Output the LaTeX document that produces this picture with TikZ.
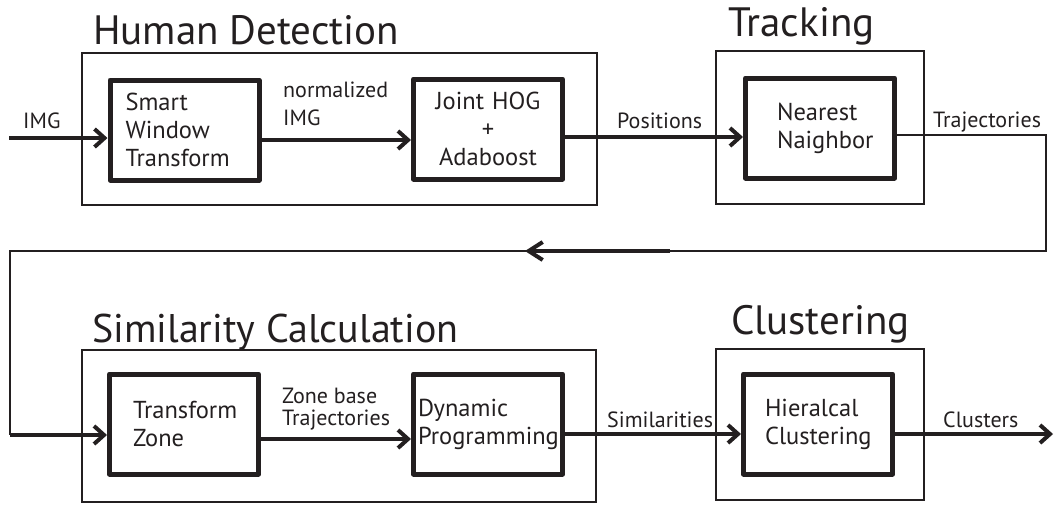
\documentclass[tikz,border=0pt]{standalone}
\usepackage{fontspec}
\setmainfont{PT Sans}
\usetikzlibrary{arrows.meta,calc}
\definecolor{ink}{HTML}{231F20}
\begin{document}
\begin{tikzpicture}[x=1pt,y=-1pt,
  every node/.style={text=ink},
  frame/.style={draw=ink, line width=2pt, inner sep=0pt},
  blk/.style={draw=ink, line width=5pt, line join=round, minimum width=149pt, minimum height=100pt, align=left, inner ysep=0pt, font=\fontsize{24.5}{28}\selectfont},
  ttl/.style={anchor=base west, inner sep=0pt, font=\fontsize{41}{44}\selectfont},
  lbl/.style={anchor=base west, inner sep=0pt, align=left, font=\fontsize{22}{28}\selectfont},
  arr/.style={draw=ink, line width=4pt, -{Straight Barb[length=10pt,width=18pt]}},
  wire/.style={draw=ink, line width=2pt}]
\useasboundingbox (0,0) rectangle (1056,504);
% stage frames
\node[frame, minimum width=515pt, minimum height=152pt] (hd) at (339.5,129) {};
\node[frame, minimum width=208pt, minimum height=153pt] (trk) at (820,127.5) {};
\node[frame, minimum width=514pt, minimum height=152pt] (sc) at (339,426) {};
\node[frame, minimum width=208pt, minimum height=151pt] (cl) at (820,424.5) {};
% titles
\node[ttl] (thd) at (93,44) {Human Detection};
\node[ttl] (ttrk) at (728,36) {Tracking};
\node[ttl, font=\fontsize{40}{44}\selectfont] (tsc) at (92,342) {Similarity Calculation};
\node[ttl] (tcl) at (731,334) {Clustering};
% blocks
\node[blk, inner xsep=15.5pt, text width=118pt] (swt) at (184.5,130) {Smart\\Window\\Transform};
\node[blk, inner xsep=5pt, text width=139pt, align=center] (jhog) at (488,129) {Joint HOG\\+\\Adaboost};
\node[blk, inner xsep=31.5pt, text width=86pt] (nn) at (820,128) {Nearest\\Naighbor};
\node[blk, inner xsep=23.5pt, text width=102pt] (tz) at (184,424) {Transform\\Zone};
\node[blk, inner xsep=4.5pt, text width=140pt] (dp) at (488,424) {Dynamic\\Programming};
\node[blk, inner xsep=21.5pt, text width=106pt] (hc) at (818,424) {Hieralcal\\Clustering};
% labels
\node[lbl] (limg) at (23,128) {IMG};
\node[lbl, anchor=north west] (lnorm) at (283,82) {normalized\\IMG};
\node[lbl] (lpos) at (617,128) {Positions};
\node[lbl] (ltraj) at (933,127) {Trajectories};
\node[lbl, anchor=north west, font=\fontsize{22}{22}\selectfont] (lzone) at (282,388) {Zone base\\Trajectories};
\node[lbl] (lsim) at (607,427) {Similarities};
\node[lbl] (lclu) at (943,427) {Clusters};
% connectors
\coordinate (src) at (9,138);
\coordinate (r2) at (1046,251);
\coordinate (l1) at (10,251);
\coordinate (l2) at (10,435);
\coordinate (m1) at (670,251);
\coordinate (m2) at (525,251);
\coordinate (out) at (1053,434);
\draw[arr] (src) -- (src -| swt.west);
\draw[arr] ([yshift=-10pt]swt.east) -- ([yshift=-10pt]swt.east -| jhog.west);
\draw[arr] ([yshift=-8pt]jhog.east) -- ([yshift=-8pt]jhog.east -| nn.west);
\draw[wire] ([yshift=-7pt]nn.east) -| (r2) -- (l1) -- (l2);
\draw[arr, -{Straight Barb[length=14pt,width=18pt]}] (m1) -- (m2);
\draw[arr] (l2) -- (l2 -| tz.west);
\draw[arr] ([yshift=-15pt]tz.east) -- ([yshift=-15pt]tz.east -| dp.west);
\draw[arr] ([yshift=-10pt]dp.east) -- ([yshift=-10pt]dp.east -| hc.west);
\draw[arr] (hc.east |- out) -- (out);
\end{tikzpicture}
\end{document}
